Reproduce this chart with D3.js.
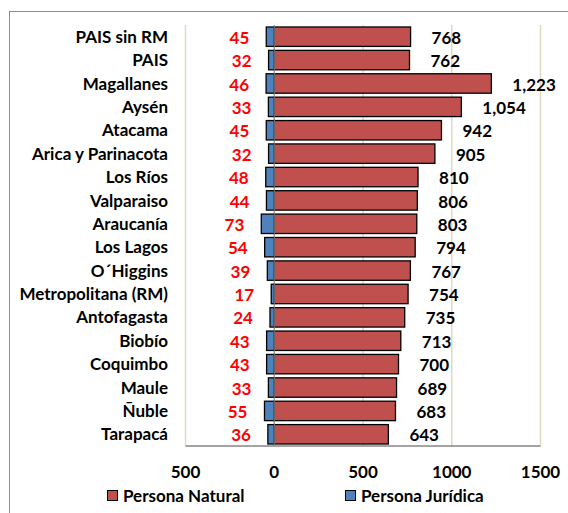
<!DOCTYPE html>
<html><head><meta charset="utf-8">
<script src="https://cdn.jsdelivr.net/npm/d3@7"></script>
<style>body{margin:0;background:#fff;} text{font-family:Lato,"Open Sans",sans-serif;font-weight:bold;}</style>
</head><body>
<svg id="c" width="568" height="513"></svg>
<script>
const categories = ["PAIS sin RM","PAIS","Magallanes","Aysén","Atacama","Arica y Parinacota","Los Ríos","Valparaiso","Araucanía","Los Lagos","O´Higgins","Metropolitana (RM)","Antofagasta","Biobío","Coquimbo","Maule","Ñuble","Tarapacá"];
const natural = [768,762,1223,1054,942,905,810,806,803,794,767,754,735,713,700,689,683,643];
const juridica = [45,32,46,33,45,32,48,44,73,54,39,17,24,43,43,33,55,36];
const ticks = [-500,0,500,1000,1500];
const seriesNames = ["Persona Natural","Persona Jurídica"];
const colors = ["#C0504D","#4F81BD"];

const svg = d3.select("#c");
svg.append("rect").attr("x",9.5).attr("y",11.5).attr("width",600).attr("height",600)
  .attr("fill","none").attr("stroke","#8c8c8c").attr("stroke-width",1);

const x = d3.scaleLinear().domain([-500,1500]).range([185.5,540.5]);
const y = d3.scaleBand().domain(categories).range([25,446]).paddingInner(0.17).paddingOuter(0.085);
const FS = 17;

svg.append("g").selectAll("line").data(ticks).join("line")
  .attr("x1",d=>x(d)).attr("x2",d=>x(d)).attr("y1",25).attr("y2",446)
  .attr("stroke","#DDD9C3").attr("stroke-width",1.5);

svg.append("g").selectAll("rect").data(categories).join("rect")
  .attr("x",x(0)).attr("y",d=>y(d)).attr("width",(d,i)=>x(natural[i])-x(0)).attr("height",y.bandwidth())
  .attr("fill",colors[0]).attr("stroke","#000").attr("stroke-width",1.3);
svg.append("g").selectAll("rect").data(categories).join("rect")
  .attr("x",(d,i)=>x(-juridica[i])).attr("y",d=>y(d)).attr("width",(d,i)=>x(0)-x(-juridica[i])).attr("height",y.bandwidth())
  .attr("fill",colors[1]).attr("stroke","#000").attr("stroke-width",1.3);

svg.append("line").attr("x1",x(0)).attr("x2",x(0)).attr("y1",25).attr("y2",446).attr("stroke","#868686").attr("stroke-width",1);
svg.append("line").attr("x1",x(-500)).attr("x2",x(1500)).attr("y1",446).attr("y2",446).attr("stroke","#868686").attr("stroke-width",1.5);

svg.append("g").selectAll("text").data(categories).join("text")
  .attr("x",168).attr("y",d=>y(d)+y.bandwidth()/2).attr("dy","0.36em").attr("text-anchor","end")
  .attr("font-size",FS).attr("fill","#000").text(d=>d);

svg.append("g").selectAll("text").data(categories).join("text")
  .attr("x",(d,i)=>x(-juridica[i])-17).attr("y",d=>y(d)+y.bandwidth()/2+1).attr("dy","0.36em").attr("text-anchor","end")
  .attr("font-size",FS).attr("fill","#FF0000").text((d,i)=>juridica[i]);

const fmt = d3.format(",");
svg.append("g").selectAll("text").data(categories).join("text")
  .attr("x",(d,i)=>x(natural[i])+21).attr("y",d=>y(d)+y.bandwidth()/2+1).attr("dy","0.36em").attr("text-anchor","start")
  .attr("font-size",FS).attr("fill","#000").text((d,i)=>fmt(natural[i]));

svg.append("g").selectAll("text").data(ticks).join("text")
  .attr("x",d=>x(d)).attr("y",478).attr("text-anchor","middle")
  .attr("font-size",FS).attr("fill","#000").text(d=>Math.abs(d));

const lg = svg.append("g");
const lx = [107,345];
seriesNames.forEach((n,i)=>{
  lg.append("rect").attr("x",lx[i]+0.5).attr("y",490.5).attr("width",10).attr("height",10)
    .attr("fill",colors[i]).attr("stroke","#000").attr("stroke-width",1);
  lg.append("text").attr("x",lx[i]+16).attr("y",502).attr("font-size",FS).attr("fill","#000").text(n);
});
</script>
</body></html>
